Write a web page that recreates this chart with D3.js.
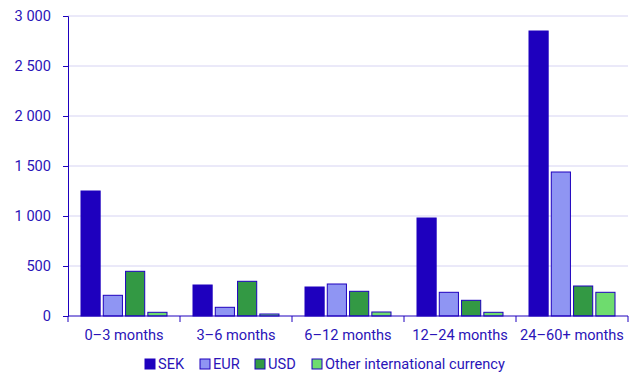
<!DOCTYPE html>
<html>
<head>
<meta charset="utf-8">
<script src="https://cdn.jsdelivr.net/npm/d3@7"></script>
<style>
  body { margin: 0; background: #fff; }
  text { font-family: Roboto, sans-serif; fill: #2a14b8; }
</style>
</head>
<body>
<svg id="chart"></svg>
<script>
const categories = ['0–3 months', '3–6 months', '6–12 months', '12–24 months', '24–60+ months'];
const seriesNames = ['SEK', 'EUR', 'USD', 'Other international currency'];
const sek = [1250, 310, 290, 980, 2850];
const eur = [207, 87, 320, 237, 1440];
const usd = [447, 347, 247, 157, 300];
const other = [37, 20, 40, 37, 237];
const yTicks = [0, 500, 1000, 1500, 2000, 2500, 3000];

const colors = ['#1e00be', '#8f95f3', '#339944', '#6edc6e'];
const seriesValues = [sek, eur, usd, other];

const width = 644;
const height = 386;
const margin = { top: 16, right: 16, bottom: 70, left: 68 };
const innerW = width - margin.left - margin.right;
const innerH = height - margin.top - margin.bottom;
const fontSize = 14.6;

const svg = d3.select('#chart')
  .attr('width', width)
  .attr('height', height);

const chart = svg.append('g')
  .attr('transform', `translate(${margin.left},${margin.top})`);

const x0 = d3.scaleBand()
  .domain(categories)
  .range([0, innerW]);

const x1 = d3.scaleBand()
  .domain(seriesNames)
  .range([13, x0.bandwidth() - 13])
  .paddingInner(0.14);

const y = d3.scaleLinear()
  .domain([0, 3000])
  .range([innerH, 0]);

// gridlines
chart.append('g')
  .selectAll('line')
  .data(yTicks.filter((t) => t > 0))
  .join('line')
  .attr('x1', 0)
  .attr('x2', innerW)
  .attr('y1', (d) => y(d))
  .attr('y2', (d) => y(d))
  .attr('stroke', '#d6d3f3')
  .attr('stroke-width', 1);

// bars
const rows = categories.map((c, i) => ({
  cat: c,
  vals: seriesNames.map((s, j) => ({ s, v: seriesValues[j][i], color: colors[j] })),
}));

chart.append('g')
  .selectAll('g')
  .data(rows)
  .join('g')
  .attr('transform', (d) => `translate(${x0(d.cat)},0)`)
  .selectAll('rect')
  .data((d) => d.vals)
  .join('rect')
  .attr('x', (d) => x1(d.s))
  .attr('y', (d) => y(d.v))
  .attr('width', x1.bandwidth())
  .attr('height', (d) => innerH - y(d.v))
  .attr('fill', (d) => d.color)
  .attr('stroke', '#1e00be')
  .attr('stroke-width', 1);

// y axis
const yAxis = d3.axisLeft(y)
  .tickValues(yTicks)
  .tickSize(5)
  .tickPadding(12)
  .tickFormat((d) => d3.format(',')(d).replace(/,/g, ' '));

chart.append('g')
  .call(yAxis)
  .call((g) => g.selectAll('line, path').attr('stroke', '#1e00be'))
  .call((g) => g.selectAll('text').attr('font-size', fontSize).attr('font-family', 'Roboto, sans-serif').attr('fill', '#2a14b8'));

// x axis with ticks at band edges
const xAxisG = chart.append('g')
  .attr('transform', `translate(0,${innerH})`);

xAxisG.append('line')
  .attr('x1', 0)
  .attr('x2', innerW)
  .attr('stroke', '#1e00be');

xAxisG.selectAll('.edge')
  .data(categories.concat(['end']))
  .join('line')
  .attr('class', 'edge')
  .attr('x1', (d, i) => (i < categories.length ? x0(d) : innerW))
  .attr('x2', (d, i) => (i < categories.length ? x0(d) : innerW))
  .attr('y1', 0)
  .attr('y2', 6)
  .attr('stroke', '#1e00be');

xAxisG.selectAll('.lbl')
  .data(categories)
  .join('text')
  .attr('class', 'lbl')
  .attr('x', (d) => x0(d) + x0.bandwidth() / 2)
  .attr('y', 24)
  .attr('text-anchor', 'middle')
  .attr('font-size', fontSize)
  .text((d) => d);

// legend
const legendX = [145, 200, 255, 312];
const legend = svg.append('g')
  .attr('transform', 'translate(0,364)');

const items = legend.selectAll('g')
  .data(seriesNames)
  .join('g')
  .attr('transform', (d, i) => `translate(${legendX[i]},0)`);

items.append('rect')
  .attr('x', 0)
  .attr('y', -5)
  .attr('width', 10)
  .attr('height', 10)
  .attr('fill', (d, i) => colors[i])
  .attr('stroke', '#1e00be')
  .attr('stroke-width', 1);

items.append('text')
  .attr('x', 13)
  .attr('y', 5)
  .attr('font-size', fontSize)
  .text((d) => d);
</script>
</body>
</html>
